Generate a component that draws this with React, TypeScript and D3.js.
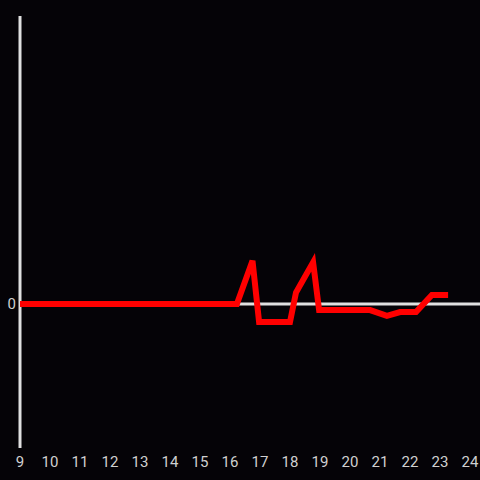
import React from "react";
import * as d3 from "d3";

const hours = [16.23, 16.75, 16.97, 18.0, 18.2, 18.77, 18.97, 20.67, 21.23, 21.67, 22.2, 22.73, 23.27];
const values = [0, 0.3, -0.125, -0.125, 0.08, 0.29, -0.042, -0.042, -0.083, -0.056, -0.056, 0.0625, 0.0625];
const xTicks = [9, 10, 11, 12, 13, 14, 15, 16, 17, 18, 19, 20, 21, 22, 23, 24];
const yTicks = [0];

export default function App() {
  const W = 480, H = 480;
  const x = d3.scaleLinear().domain([9, 24]).range([20, 470]);
  const y = d3.scaleLinear().domain([-1, 2]).range([448, 16]);
  const pts: [number, number][] = [[9, 0], ...hours.map((h, i) => [h, values[i]] as [number, number])];
  const line = d3.line<[number, number]>().x(d => x(d[0])).y(d => y(d[1]));
  return (
    <svg width={W} height={H} style={{ position: "absolute", left: 0, top: 0, background: "#050307" }}>
      <rect x={0} y={0} width={W} height={H} fill="#050307" />
      <line x1={x(9)} x2={W} y1={y(0)} y2={y(0)} stroke="#e0e0e0" strokeWidth={3} />
      <line x1={x(9)} x2={x(9)} y1={16} y2={448} stroke="#e0e0e0" strokeWidth={3} />
      <path d={line(pts) || ""} fill="none" stroke="#ff0000" strokeWidth={6} strokeLinejoin="miter" />
      {xTicks.map(t => (
        <text key={t} x={x(t)} y={467} textAnchor="middle" fill="#d0d0d0" fontSize={15} fontFamily="Roboto, sans-serif">{t}</text>
      ))}
      {yTicks.map(t => (
        <text key={t} x={16} y={y(t) + 5} textAnchor="end" fill="#d0d0d0" fontSize={15} fontFamily="Roboto, sans-serif">{t}</text>
      ))}
    </svg>
  );
}
